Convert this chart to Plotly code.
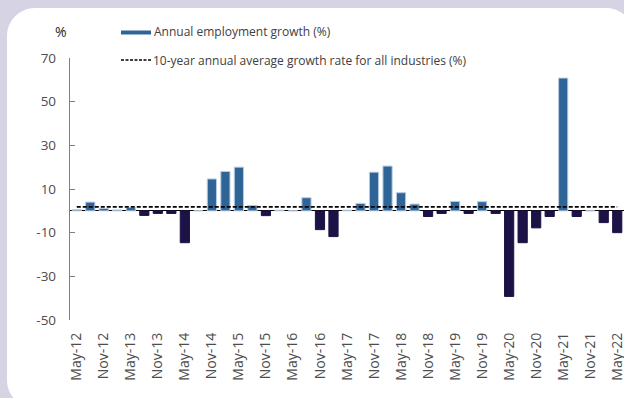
import plotly.graph_objects as go

quarters = [
    "May-12", "Aug-12", "Nov-12", "Feb-13", "May-13", "Aug-13", "Nov-13", "Feb-14",
    "May-14", "Aug-14", "Nov-14", "Feb-15", "May-15", "Aug-15", "Nov-15", "Feb-16",
    "May-16", "Aug-16", "Nov-16", "Feb-17", "May-17", "Aug-17", "Nov-17", "Feb-18",
    "May-18", "Aug-18", "Nov-18", "Feb-19", "May-19", "Aug-19", "Nov-19", "Feb-20",
    "May-20", "Aug-20", "Nov-20", "Feb-21", "May-21", "Aug-21", "Nov-21", "Feb-22",
    "May-22",
]
growth = [
    0.5, 4.0, 1.1, 0.4, 1.5, -2.1, -1.2, -1.2,
    -14.6, 0.0, 14.6, 18.0, 20.0, 2.5, -2.2, 0.3,
    0.0, 6.0, -8.6, -11.8, 0.3, 3.4, 17.7, 20.5,
    8.3, 3.1, -2.6, -1.2, 4.3, -1.2, 4.2, -1.2,
    -39.2, -14.6, -7.8, -2.6, 60.8, -2.6, 0.0, -5.4,
    -10.0,
]
avg_growth = 1.8
tick_labels = [q for q in quarters if q.startswith(("May", "Nov"))]
y_ticks = [70, 50, 30, 10, -10, -30, -50]

POS = '#2f6497'
NEG = '#1c1245'
BG = '#d6d4e4'
TXT = '#404040'

# plot area in pixels
L, R, T, B = 70, 0, 58, 78
W_IMG, H_IMG = 624, 398
PW = W_IMG - L - R
PH = H_IMG - T - B

def px(x):
    return (x - L) / PW

def py(y):
    return (H_IMG - B - y) / PH

colors = [POS if v >= 0 else NEG for v in growth]
edges = ['#b9cbe0' if v >= 0 else NEG for v in growth]

fig = go.Figure()
fig.add_trace(go.Bar(
    x=quarters, y=growth,
    marker=dict(color=colors, line=dict(color=edges, width=1)),
    width=0.68, showlegend=False, hoverinfo='x+y',
))
fig.add_trace(go.Scatter(
    x=[quarters[0], quarters[-1]], y=[avg_growth, avg_growth],
    mode='lines', line=dict(color='black', width=1.6, dash='4px,2px'),
    showlegend=False, hoverinfo='skip',
))

# white rounded panel behind the chart
def panel_path(x0, y0, x1, y1, r):
    k = 0.552 * r
    pts = [
        f"M{px(x0)},{py(y0 + r)}",
        f"C{px(x0)},{py(y0 + r - k)} {px(x0 + r - k)},{py(y0)} {px(x0 + r)},{py(y0)}",
        f"L{px(x1 - r)},{py(y0)}",
        f"C{px(x1 - r + k)},{py(y0)} {px(x1)},{py(y0 + r - k)} {px(x1)},{py(y0 + r)}",
        f"L{px(x1)},{py(y1 - r)}",
        f"C{px(x1)},{py(y1 - r + k)} {px(x1 - r + k)},{py(y1)} {px(x1 - r)},{py(y1)}",
        f"L{px(x0 + r)},{py(y1)}",
        f"C{px(x0 + r - k)},{py(y1)} {px(x0)},{py(y1 - r + k)} {px(x0)},{py(y1 - r)}",
        "Z",
    ]
    return " ".join(pts)

shapes = [
    dict(type='path', xref='paper', yref='paper', layer='below',
         path=panel_path(7, 8, 634, 408, 28),
         fillcolor='white', line=dict(width=0)),
    # legend keys
    dict(type='rect', xref='paper', yref='paper',
         x0=px(121), x1=px(151), y0=py(30.5), y1=py(34.5),
         fillcolor=POS, line=dict(width=0)),
    dict(type='line', xref='paper', yref='paper',
         x0=px(121), x1=px(152), y0=py(60), y1=py(60),
         line=dict(color='black', width=1.3, dash='3px,1.5px')),
]

annotations = [
    dict(text='%', x=px(61), y=py(31), xref='paper', yref='paper',
         showarrow=False, xanchor='center', yanchor='middle',
         font=dict(size=14, color='#262626')),
    dict(text='Annual employment growth (%)', x=px(152), y=py(32),
         xref='paper', yref='paper', showarrow=False,
         xanchor='left', yanchor='middle', font=dict(size=12, color=TXT)),
    dict(text='10-year annual average growth rate for all industries (%)',
         x=px(151), y=py(60), xref='paper', yref='paper', showarrow=False,
         xanchor='left', yanchor='middle', font=dict(size=12, color=TXT)),
]

fig.update_layout(
    width=W_IMG, height=H_IMG,
    margin=dict(l=L, r=R, t=T, b=B, pad=0, autoexpand=False),
    paper_bgcolor=BG, plot_bgcolor='rgba(0,0,0,0)',
    font=dict(family='Open Sans', color=TXT, size=13),
    bargap=0.32,
    shapes=shapes, annotations=annotations,
    xaxis=dict(
        type='category', range=[-0.5, len(quarters) - 0.5],
        tickmode='array', tickvals=tick_labels, ticktext=tick_labels,
        tickangle=-90, showgrid=False, showline=False, zeroline=False,
        ticks='', tickfont=dict(size=14, color='#4d4d4d'), automargin=False,
        ticklabelstandoff=9,
    ),
    yaxis=dict(
        range=[-50, 70], tickmode='array', tickvals=y_ticks,
        ticktext=[str(v) for v in y_ticks],
        showgrid=False, showline=True, linecolor='#7f7f7f', linewidth=1.4,
        ticks='inside', ticklen=5, tickcolor='#7f7f7f', tickwidth=1.4,
        zeroline=True, zerolinecolor='black', zerolinewidth=1.4,
        ticklabelstandoff=10, tickfont=dict(size=13.5, color='#4d4d4d'),
        automargin=False,
    ),
)

# the page body has a default margin; drop it so the figure sits at 0,0
fig.write_html("out.html", config={'displayModeBar': False},
               post_script="document.body.style.margin='0';")
